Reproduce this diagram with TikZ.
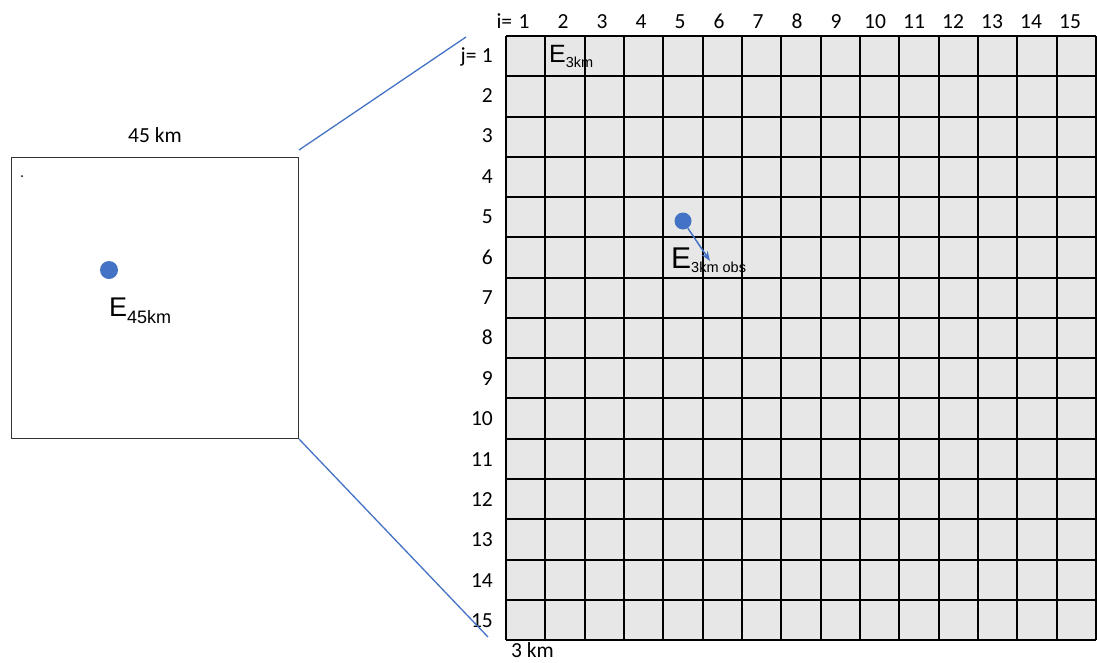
\documentclass[tikz,border=0pt]{standalone}
\usepackage{fontspec}
\setmainfont{Carlito}
\newfontfamily\arialfont{Liberation Sans}
\usetikzlibrary{arrows.meta,positioning,calc}
\definecolor{LinkBlue}{RGB}{68,114,196}
\definecolor{CellGray}{RGB}{231,231,231}
\begin{document}
\begin{tikzpicture}[x=1pt,y=-1pt,>=Stealth,
    lab/.style={font=\fontsize{21.5}{21.5}\selectfont,inner sep=0pt},
    elab/.style={font=\arialfont,inner sep=0pt},
    gridline/.style={black,line width=2pt}]
  \useasboundingbox (0,0) rectangle (1097,662);
  % coarse 45 km cell
  \node[draw=black!80,line width=1pt,minimum width=287pt,minimum height=281pt,
        inner sep=0pt,anchor=north west] (coarse) at (11,157) {};
  \node[lab,above=14pt of coarse.north] (coarsesize) {45 km};
  \fill (22,176) circle (1pt);
  \node[circle,fill=LinkBlue,minimum size=18pt,inner sep=0pt] (obscoarse) at (109,270) {};
  \node[elab,anchor=base west] (Ecoarse) at (109,316)
    {\fontsize{27}{27}\selectfont E\fontsize{18}{18}\selectfont\raisebox{-7pt}{45km}};
  % fine 3 km grid
  \coordinate (gridNW) at (506,36);
  \coordinate (gridSE) at (1096,640);
  \fill[CellGray] (gridNW) rectangle (gridSE);
  \foreach \k in {0,...,15} {
    \draw[gridline] ({506+round(\k*39.33)},36) -- ({506+round(\k*39.33)},640);
    \draw[gridline] (506,{36+round(\k*40.27)}) -- (1096,{36+round(\k*40.27)});
  }
  % indices
  \foreach \k in {1,...,15} {
    \node[lab,anchor=base] (col\k) at ({524+39*(\k-1)},28) {\k};
    \node[lab,anchor=base east] (row\k) at (493,{62+40.4*(\k-1)}) {\k};
  }
  \node[lab,anchor=base east] (ilab) at ([xshift=-6pt]col1.base west) {i=};
  \node[lab,anchor=base east] (jlab) at ([xshift=-5pt]row1.base west) {j=};
  \node[lab,anchor=base west] (finesize) at (511,657) {3 km};
  % fine cell labels
  \node[elab,anchor=base west] (Efine) at (549,62)
    {\fontsize{25}{25}\selectfont E\fontsize{14.5}{14.5}\selectfont\raisebox{-5pt}{3km}};
  \node[circle,fill=LinkBlue,minimum size=17pt,inner sep=0pt] (obsfine) at (683,221) {};
  \node[elab,anchor=base west] (Eobs) at (671,268)
    {\fontsize{30}{30}\selectfont E\fontsize{14.5}{14.5}\selectfont\raisebox{-4pt}{3km obs}};
  \coordinate (obstip) at (710,261);
  \draw[->,LinkBlue,line width=1.5pt] (obsfine) -- (obstip);
  % zoom lines
  \coordinate (zoomtop) at (466,37);
  \coordinate (zoombot) at (488,637);
  \draw[LinkBlue,line width=1.3pt] ([yshift=7pt]coarse.north east) -- (zoomtop);
  \draw[LinkBlue,line width=1.3pt] (coarse.south east) -- (zoombot);
\end{tikzpicture}
\end{document}
